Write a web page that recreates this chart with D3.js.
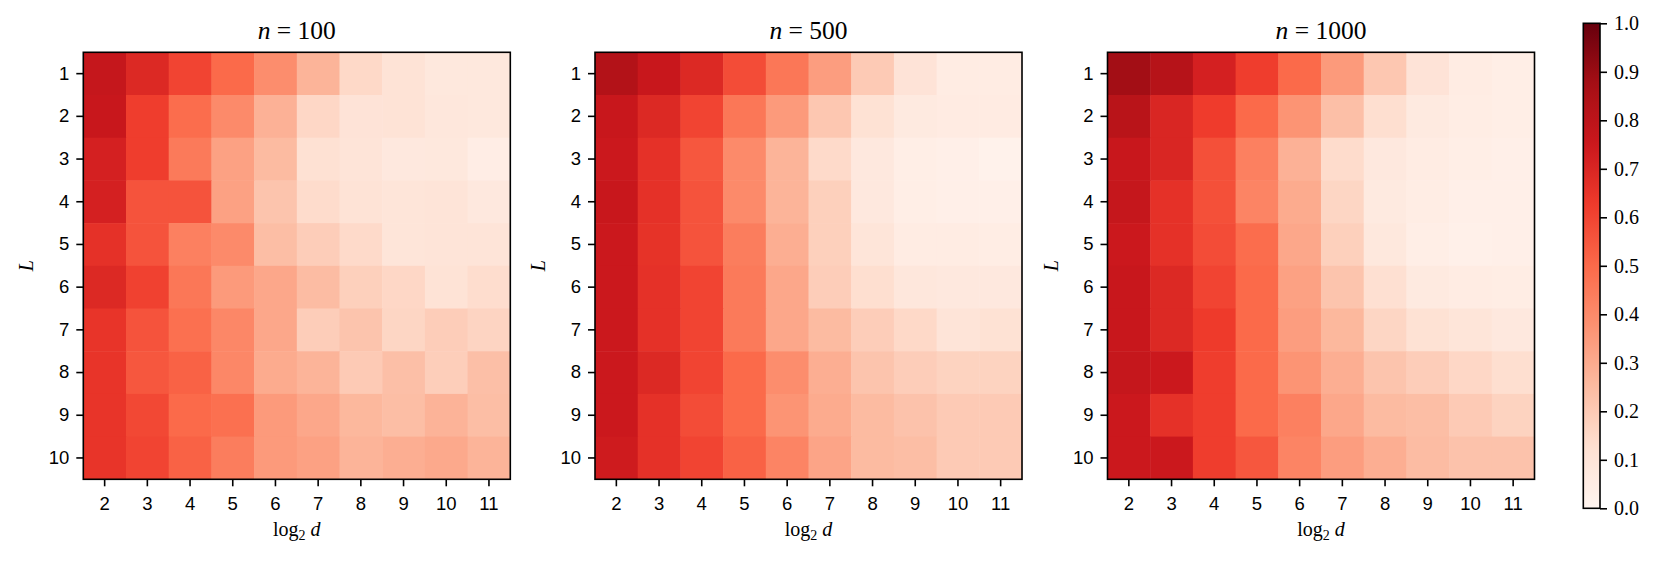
<!DOCTYPE html>
<html>
<head>
<meta charset="utf-8">
<script src="https://cdn.jsdelivr.net/npm/d3@7"></script>
<style>
  body { margin: 0; background: #fff; }
  svg { display: block; }
</style>
</head>
<body>
<svg id="chart" width="1660" height="561"></svg>
<script>
// column categories (log2 d) and row categories (L)
const logD = [2, 3, 4, 5, 6, 7, 8, 9, 10, 11];
const layers = [1, 2, 3, 4, 5, 6, 7, 8, 9, 10];
const sampleSizes = [100, 500, 1000];
const cbarTicks = [0, 0.1, 0.2, 0.3, 0.4, 0.5, 0.6, 0.7, 0.8, 0.9, 1.0];

// one row per L, one value per log2 d
const n100 = [
  [0.77, 0.69, 0.60, 0.50, 0.39, 0.27, 0.15, 0.11, 0.08, 0.08],
  [0.76, 0.62, 0.49, 0.40, 0.28, 0.155, 0.105, 0.11, 0.085, 0.08],
  [0.72, 0.62, 0.45, 0.33, 0.25, 0.12, 0.10, 0.075, 0.078, 0.045],
  [0.72, 0.56, 0.56, 0.33, 0.22, 0.14, 0.11, 0.095, 0.10, 0.075],
  [0.66, 0.56, 0.43, 0.40, 0.24, 0.19, 0.145, 0.095, 0.10, 0.10],
  [0.69, 0.61, 0.46, 0.35, 0.31, 0.245, 0.18, 0.155, 0.11, 0.135],
  [0.65, 0.56, 0.48, 0.41, 0.31, 0.19, 0.22, 0.16, 0.19, 0.165],
  [0.65, 0.55, 0.52, 0.41, 0.30, 0.27, 0.20, 0.235, 0.185, 0.235],
  [0.65, 0.59, 0.50, 0.48, 0.35, 0.31, 0.26, 0.24, 0.275, 0.24],
  [0.65, 0.60, 0.52, 0.44, 0.35, 0.33, 0.27, 0.29, 0.305, 0.27]
];
const n500 = [
  [0.83, 0.76, 0.69, 0.58, 0.46, 0.34, 0.20, 0.105, 0.055, 0.055],
  [0.76, 0.69, 0.60, 0.46, 0.35, 0.21, 0.115, 0.065, 0.06, 0.06],
  [0.75, 0.66, 0.55, 0.40, 0.27, 0.145, 0.075, 0.04, 0.035, 0.02],
  [0.76, 0.66, 0.56, 0.40, 0.27, 0.18, 0.075, 0.04, 0.035, 0.035],
  [0.75, 0.655, 0.56, 0.44, 0.29, 0.18, 0.095, 0.055, 0.055, 0.05],
  [0.75, 0.66, 0.60, 0.45, 0.31, 0.19, 0.13, 0.085, 0.075, 0.075],
  [0.75, 0.66, 0.60, 0.45, 0.31, 0.25, 0.19, 0.15, 0.10, 0.115],
  [0.75, 0.69, 0.60, 0.50, 0.39, 0.29, 0.22, 0.19, 0.17, 0.17],
  [0.75, 0.66, 0.58, 0.50, 0.37, 0.30, 0.25, 0.225, 0.20, 0.20],
  [0.74, 0.66, 0.60, 0.52, 0.42, 0.32, 0.25, 0.24, 0.20, 0.20]
];
const n1000 = [
  [0.88, 0.82, 0.72, 0.62, 0.50, 0.35, 0.21, 0.105, 0.055, 0.04],
  [0.81, 0.70, 0.625, 0.50, 0.37, 0.235, 0.13, 0.065, 0.05, 0.04],
  [0.76, 0.70, 0.57, 0.43, 0.28, 0.14, 0.075, 0.055, 0.04, 0.035],
  [0.77, 0.66, 0.57, 0.42, 0.30, 0.16, 0.065, 0.05, 0.035, 0.035],
  [0.75, 0.66, 0.58, 0.49, 0.31, 0.18, 0.08, 0.04, 0.03, 0.035],
  [0.76, 0.69, 0.60, 0.50, 0.33, 0.22, 0.125, 0.065, 0.055, 0.05],
  [0.76, 0.69, 0.63, 0.50, 0.34, 0.26, 0.16, 0.115, 0.095, 0.075],
  [0.77, 0.75, 0.62, 0.50, 0.37, 0.29, 0.22, 0.19, 0.155, 0.13],
  [0.75, 0.66, 0.62, 0.50, 0.43, 0.31, 0.25, 0.24, 0.20, 0.17],
  [0.75, 0.75, 0.62, 0.55, 0.42, 0.34, 0.29, 0.245, 0.225, 0.225]
];
const panels = [n100, n500, n1000];

// matplotlib "Reds"
const redsStops = ["#fff5f0", "#fee0d2", "#fcbba1", "#fc9272", "#fb6a4a", "#ef3b2c", "#cb181d", "#a50f15", "#67000d"];
const color = d3.scaleLinear()
  .domain(d3.range(9).map(i => i / 8))
  .range(redsStops)
  .interpolate(d3.interpolateRgb)
  .clamp(true);

const svg = d3.select("#chart");
const size = 427, panelTop = 52.3;
const lefts = [83.3, 595, 1107.5];

const sansFont = "'Liberation Sans', Arial, sans-serif";
const serifFont = "'Liberation Serif', 'Times New Roman', serif";

const x = d3.scaleBand().domain(logD).range([0, size]);
const y = d3.scaleBand().domain(layers).range([0, size]);

panels.forEach((grid, p) => {
  const g = svg.append("g").attr("transform", `translate(${lefts[p]},${panelTop})`);

  const cells = [];
  grid.forEach((row, i) => row.forEach((v, j) => cells.push({ L: layers[i], d: logD[j], v })));

  g.selectAll("rect.cell").data(cells).enter().append("rect")
    .attr("class", "cell")
    .attr("x", c => x(c.d))
    .attr("y", c => y(c.L))
    .attr("width", x.bandwidth() + 0.5)
    .attr("height", y.bandwidth() + 0.5)
    .attr("fill", c => color(c.v));

  const xAxis = g.append("g").attr("transform", `translate(0,${size})`)
    .call(d3.axisBottom(x).tickSize(7).tickPadding(6));
  const yAxis = g.append("g")
    .call(d3.axisLeft(y).tickSize(7).tickPadding(7));
  [xAxis, yAxis].forEach(a => {
    a.select(".domain").remove();
    a.selectAll("line").attr("stroke", "#000").attr("stroke-width", 1.6);
    a.selectAll("text").attr("font-family", sansFont).attr("font-size", 18.5).attr("fill", "#000");
  });
  xAxis.selectAll("text").attr("dy", "0.95em");

  g.append("rect")
    .attr("width", size).attr("height", size)
    .attr("fill", "none").attr("stroke", "#000").attr("stroke-width", 1.6);

  // title
  const t = g.append("text")
    .attr("x", size / 2).attr("y", -13.5)
    .attr("text-anchor", "middle")
    .attr("font-family", serifFont).attr("font-size", 25.5);
  t.append("tspan").attr("font-style", "italic").text("n");
  t.append("tspan").text(" = " + sampleSizes[p]);

  // x label
  const xl = g.append("text")
    .attr("x", size / 2).attr("y", size + 57)
    .attr("text-anchor", "middle")
    .attr("font-family", serifFont).attr("font-size", 20);
  xl.append("tspan").text("log");
  xl.append("tspan").attr("font-size", 14).attr("dy", 4).text("2");
  xl.append("tspan").attr("dy", -4).text(" ");
  xl.append("tspan").attr("font-style", "italic").text("d");

  // y label
  g.append("text")
    .attr("transform", `translate(-50,${size / 2}) rotate(-90)`)
    .attr("text-anchor", "middle")
    .attr("font-family", serifFont).attr("font-size", 20).attr("font-style", "italic")
    .text("L");
});

// colorbar
const cb = { x: 1583.3, y: 23.3, w: 16.7, h: 485 };
const defs = svg.append("defs");
const grad = defs.append("linearGradient").attr("id", "reds")
  .attr("x1", 0).attr("y1", 1).attr("x2", 0).attr("y2", 0);
d3.range(0, 1.0001, 0.02).forEach(t => {
  grad.append("stop").attr("offset", t).attr("stop-color", color(t));
});
const cg = svg.append("g").attr("transform", `translate(${cb.x},${cb.y})`);
cg.append("rect").attr("width", cb.w).attr("height", cb.h).attr("fill", "url(#reds)");
const cScale = d3.scaleLinear().domain([0, 1]).range([cb.h, 0]);
const cAxis = cg.append("g").attr("transform", `translate(${cb.w},0)`)
  .call(d3.axisRight(cScale).tickValues(cbarTicks).tickFormat(d3.format(".1f")).tickSize(7).tickPadding(7));
cAxis.select(".domain").remove();
cAxis.selectAll("line").attr("stroke", "#000").attr("stroke-width", 1.6);
cAxis.selectAll("text").attr("font-family", serifFont).attr("font-size", 20).attr("fill", "#000");
cg.append("rect").attr("width", cb.w).attr("height", cb.h)
  .attr("fill", "none").attr("stroke", "#000").attr("stroke-width", 1.6);
</script>
</body>
</html>
